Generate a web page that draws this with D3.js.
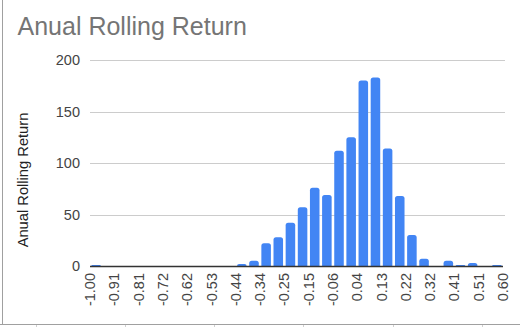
<!DOCTYPE html>
<html><head><meta charset="utf-8">
<script src="https://cdn.jsdelivr.net/npm/d3@7"></script>
<style>body{margin:0;background:#fff}svg{display:block}</style>
</head><body>
<script>
const titleText = "Anual Rolling Return";
const yAxisTitle = "Anual Rolling Return";
const binMin = -1.0, binMax = 0.6;
const counts = [1,0,0,0,0,0,0,0,0,0,0,0,2,5,22,28,42,57,76,69,112,125,180,183,114,68,30,7,0,5,1,3,0,1];
const xTickLabels = ["-1.00","-0.91","-0.81","-0.72","-0.62","-0.53","-0.44","-0.34","-0.25","-0.15","-0.06","0.04","0.13","0.22","0.32","0.41","0.51","0.60"];
const yTicks = [0,50,100,150,200];

const W=520,H=327;
const svg=d3.select("body").append("svg").attr("width",W).attr("height",H);
const font="Arial, 'Liberation Sans', sans-serif";

const binW=(binMax-binMin)/counts.length;
const x=d3.scaleLinear().domain([binMin,binMax]).range([90,503]);
const y=d3.scaleLinear().domain([0,200]).range([266,60]);

// frame lines
svg.append("line").attr("x1",2.5).attr("x2",2.5).attr("y1",0).attr("y2",324).attr("stroke","#a0a0a0");
svg.append("line").attr("x1",0).attr("x2",W).attr("y1",324.5).attr("y2",324.5).attr("stroke","#a0a0a0");
[36,125,214,303,393,482].forEach(v=>svg.append("line").attr("x1",v+0.5).attr("x2",v+0.5).attr("y1",325).attr("y2",327).attr("stroke","#d0d0d0"));

svg.append("text").attr("x",17.5).attr("y",35).attr("font-family",font).attr("font-size",25)
  .attr("fill","#757575").text(titleText);

// gridlines
svg.append("g").selectAll("line").data(yTicks.filter(d=>d>0)).join("line")
  .attr("x1",90).attr("x2",505).attr("y1",d=>Math.round(y(d))+0.5).attr("y2",d=>Math.round(y(d))+0.5)
  .attr("stroke","#cccccc");
svg.append("g").selectAll("text").data(yTicks).join("text")
  .attr("x",80).attr("y",d=>y(d)).attr("dy","0.35em").attr("text-anchor","end")
  .attr("font-family",font).attr("font-size",14.5).attr("fill","#444").text(d=>d);

svg.append("text").attr("transform","translate(23,180) rotate(-90)").attr("dy","0.35em").attr("text-anchor","middle")
  .attr("font-family",font).attr("font-size",14.7).attr("fill","#222").text(yAxisTitle);

// bars
const pad=1.3;
svg.append("g").selectAll("path").data(counts.map((c,i)=>({c,i}))).join("path")
  .attr("fill","#4285f4")
  .attr("d",d=>{
    if(d.c<=0) return "";
    const x0=x(binMin+d.i*binW)+pad, x1=x(binMin+(d.i+1)*binW)-pad;
    const yt=y(d.c), yb=y(0);
    const r=Math.min(2.5,(yb-yt),(x1-x0)/2);
    return `M${x0},${yb}V${yt+r}Q${x0},${yt} ${x0+r},${yt}H${x1-r}Q${x1},${yt} ${x1},${yt+r}V${yb}Z`;
  });

// baseline
svg.append("line").attr("x1",90).attr("x2",503).attr("y1",266.5).attr("y2",266.5).attr("stroke","#333").attr("stroke-width",1.5);

// x tick labels
const step=(binMax-binMin)/(xTickLabels.length-1);
svg.append("g").selectAll("text").data(xTickLabels).join("text")
  .attr("transform",(d,i)=>`translate(${x(binMin+i*step)},273) rotate(-90)`)
  .attr("dy","0.35em")
  .attr("text-anchor","end").attr("font-family",font).attr("font-size",14.5).attr("fill","#444").text(d=>d);
</script>
</body></html>
